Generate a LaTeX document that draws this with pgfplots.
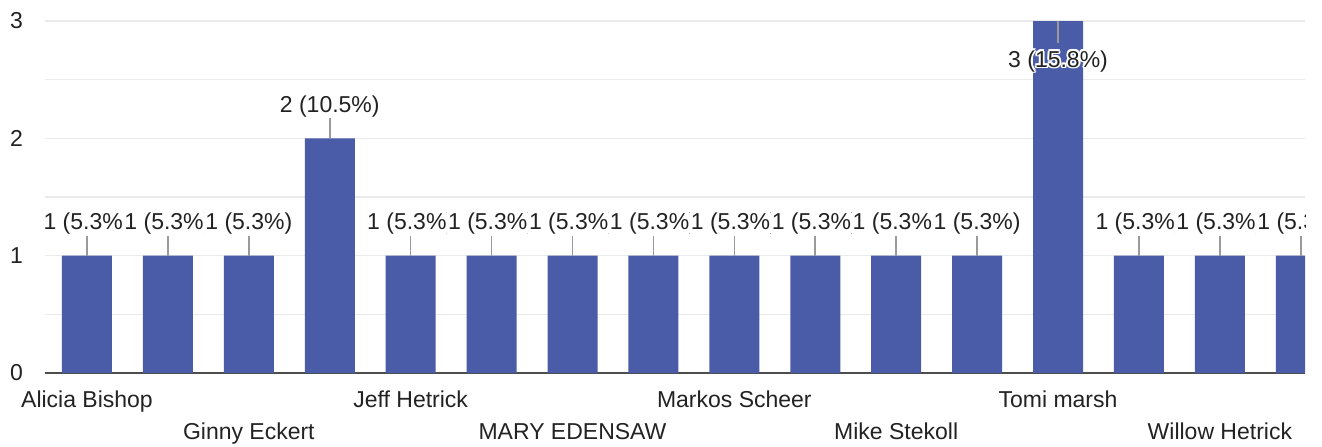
\documentclass[border=0pt]{standalone}
\usepackage{fontspec}
\setmainfont{Liberation Sans}
\usepackage{pgfplots}
\pgfplotsset{compat=1.18}
\definecolor{barblue}{HTML}{4A5CA8}
\definecolor{gridgray}{HTML}{EAEAEA}
\definecolor{axisgray}{HTML}{4D4D4D}
\definecolor{txt}{HTML}{222222}
\definecolor{leadgray}{HTML}{9A9A9A}
\newcommand\lab{\fontsize{11.5}{13.8}\selectfont}
\begin{document}
\begin{tikzpicture}
\begin{axis}[
  at={(0,0)}, anchor=south west,
  scale only axis, width=630pt, height=176pt,
  xmin=-0.519, xmax=15.052, ymin=0, ymax=3,
  axis x line*=bottom, axis y line*=left,
  x axis line style={draw=axisgray, line width=1pt, -},
  y axis line style={draw=none},
  major tick length=0pt, minor tick length=0pt,
  ytick={0,1,2,3}, yticklabels={0,1,2,3},
  minor y tick num=1,
  ymajorgrids, yminorgrids,
  major grid style={draw=gridgray, line width=0.8pt},
  minor grid style={draw=gridgray, line width=0.8pt},
  yticklabel style={font=\lab, text=txt, xshift=-7.5pt},
  xtick={0,4,8,12},
  xticklabels={Alicia Bishop, Jeff Hetrick, Markos Scheer, Tomi marsh},
  xticklabel style={font=\lab, text=txt, anchor=base, yshift=-17pt},
  extra x ticks={2,6,10,14},
  extra x tick labels={Ginny Eckert, MARY EDENSAW, Mike Stekoll, Willow Hetrick},
  extra x tick style={grid=none, xticklabel style={yshift=-16pt}},
]
\addplot[ybar, bar width=25pt, fill=barblue, draw=none] coordinates {
 (0,1) (1,1) (2,1) (3,2) (4,1) (5,1) (6,1) (7,1) (8,1) (9,1) (10,1) (11,1) (12,3) (13,1) (14,1) (15,1)};
% leader lines
\addplot[draw=none, mark=none, forget plot,
  error bars/.cd, y dir=plus, y fixed=0.19, error mark=none,
  error bar style={draw=leadgray, line width=0.8pt, solid}] coordinates {
 (0,1) (1,1) (2,1) (3,2) (4,1) (5,1) (6,1) (7,1) (8,1) (9,1) (10,1) (11,1) (13,1) (14,1) (15,1)};
\addplot[draw=none, mark=none, forget plot,
  error bars/.cd, y dir=minus, y fixed=0.19, error mark=none,
  error bar style={draw=leadgray, line width=0.8pt, solid}] coordinates {(12,3)};
% data labels above bars
\addplot[only marks, mark=*, mark size=0pt, mark options={draw=none, fill=none}, forget plot,
  point meta=explicit symbolic, nodes near coords,
  nodes near coords align={anchor=base},
  every node near coord/.append style={anchor=base, yshift=13pt, fill=white, inner sep=0.6pt, text=txt, font=\lab}] coordinates {
 (0,1) [1 (5.3\%)] (1,1) [1 (5.3\%)] (2,1) [1 (5.3\%)] (3,2) [2 (10.5\%)]
 (4,1) [1 (5.3\%)] (5,1) [1 (5.3\%)] (6,1) [1 (5.3\%)] (7,1) [1 (5.3\%)]
 (8,1) [1 (5.3\%)] (9,1) [1 (5.3\%)] (10,1) [1 (5.3\%)] (11,1) [1 (5.3\%)]
 (13,1) [1 (5.3\%)] (14,1) [1 (5.3\%)] (15,1) [1 (5.3\%)]};
% label inside the tallest bar: white halo, then text
\pgfplotsinvokeforeach{0,45,90,135,180,225,270,315}{
\addplot[only marks, mark=*, mark size=0pt, mark options={draw=none, fill=none}, forget plot,
  point meta=explicit symbolic, nodes near coords,
  nodes near coords align={anchor=base},
  every node near coord/.append style={anchor=base, yshift=-23pt, xshift={0.9*cos(#1)}, yshift={0.9*sin(#1)}, inner sep=0.6pt, text=white, font=\lab}] coordinates {
 (12,3) [3 (15.8\%)]};
}
\addplot[only marks, mark=*, mark size=0pt, mark options={draw=none, fill=none}, forget plot,
  point meta=explicit symbolic, nodes near coords,
  nodes near coords align={anchor=base},
  every node near coord/.append style={anchor=base, yshift=-23pt, inner sep=0.6pt, text=txt, font=\lab}] coordinates {
 (12,3) [3 (15.8\%)]};
\end{axis}
% the chart clips its labels at the plot's right edge
\fill[white] (630.6pt,60pt) rectangle (640pt,95pt);
\pgfresetboundingbox
\useasboundingbox (-22.5pt,-36.5pt) rectangle (638.5pt,186.5pt);
\end{tikzpicture}
\end{document}
